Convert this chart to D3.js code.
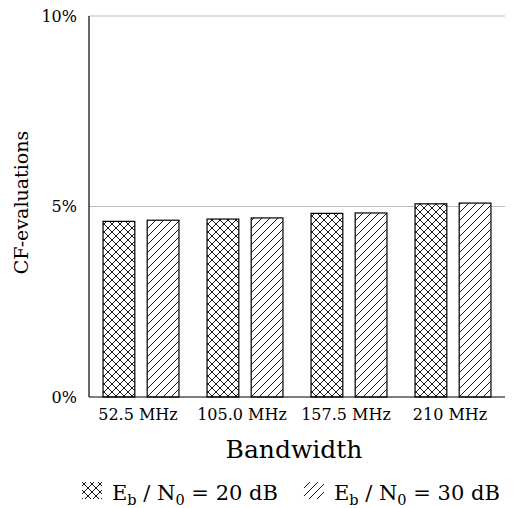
<!DOCTYPE html>
<html><head><meta charset="utf-8">
<script src="https://cdn.jsdelivr.net/npm/d3@7"></script>
<style>
html,body{margin:0;padding:0;background:#fff;}
text{font-family:"DejaVu Serif",serif;fill:#000;}
</style></head>
<body><svg id="chart" width="514" height="508"></svg>
<script>
const categories = ["52.5 MHz", "105.0 MHz", "157.5 MHz", "210 MHz"];
const series20 = [4.61, 4.67, 4.82, 5.07];
const series30 = [4.64, 4.70, 4.83, 5.09];
const seriesNames = ["20", "30"];
const yTicks = [0, 5, 10];
const xLabel = "Bandwidth";
const yLabel = "CF-evaluations";

const svg = d3.select("#chart");
const m = {left: 89, right: 9, top: 16, bottom: 111};
const W = 514, H = 508;
const x = d3.scaleBand().domain(categories).range([m.left, W - m.right]).paddingInner(0.27).paddingOuter(0.135);
const xs = d3.scaleBand().domain(seriesNames).range([0, x.bandwidth()]).paddingInner(0.28);
const y = d3.scaleLinear().domain([0, 10]).range([H - m.bottom, m.top]);

const defs = svg.append("defs");
const pc = defs.append("pattern").attr("id", "cross").attr("patternUnits", "userSpaceOnUse").attr("width", 8).attr("height", 8);
pc.append("path").attr("d", "M0,0L8,8M0,8L8,0").attr("stroke", "#000").attr("stroke-width", 0.9).attr("fill", "none");
const ph = defs.append("pattern").attr("id", "hatch").attr("patternUnits", "userSpaceOnUse").attr("width", 8).attr("height", 8);
ph.append("path").attr("d", "M-2,2L2,-2M0,8L8,0M6,10L10,6").attr("stroke", "#000").attr("stroke-width", 0.9).attr("fill", "none");
const fills = {"20": "url(#cross)", "30": "url(#hatch)"};

// grid
svg.append("g").selectAll("line").data(yTicks.filter(d => d > 0)).join("line")
  .attr("x1", m.left).attr("x2", W - m.right)
  .attr("y1", d => y(d)).attr("y2", d => y(d))
  .attr("stroke", "#bbb").attr("stroke-width", 1);

// y tick labels
svg.append("g").selectAll("text").data(yTicks).join("text")
  .attr("x", m.left - 12).attr("y", d => y(d)).attr("dy", "0.35em")
  .attr("text-anchor", "end").attr("font-size", 16)
  .text(d => d + "%");

// bars
const data = categories.map((c, i) => ({c, v: {"20": series20[i], "30": series30[i]}}));
const g = svg.append("g");
data.forEach(d => {
  seriesNames.forEach(s => {
    g.append("rect")
      .attr("x", x(d.c) + xs(s)).attr("width", xs.bandwidth())
      .attr("y", y(d.v[s])).attr("height", y(0) - y(d.v[s]))
      .attr("fill", "#fff");
    g.append("rect")
      .attr("x", x(d.c) + xs(s)).attr("width", xs.bandwidth())
      .attr("y", y(d.v[s])).attr("height", y(0) - y(d.v[s]))
      .attr("fill", fills[s]).attr("stroke", "#000").attr("stroke-width", 1.2);
  });
});

// axes lines
svg.append("line").attr("x1", m.left).attr("x2", m.left).attr("y1", y(10)).attr("y2", y(0)).attr("stroke", "#000").attr("stroke-width", 1.2);
svg.append("line").attr("x1", m.left).attr("x2", W - m.right).attr("y1", y(0)).attr("y2", y(0)).attr("stroke", "#000").attr("stroke-width", 1.2);

// x tick labels
svg.append("g").selectAll("text").data(categories).join("text")
  .attr("x", d => x(d) + x.bandwidth() / 2 - 3).attr("y", y(0) + 23)
  .attr("text-anchor", "middle").attr("font-size", 16)
  .text(d => d);

// axis titles
svg.append("text").attr("x", (m.left + W - m.right) / 2 - 3).attr("y", 458)
  .attr("text-anchor", "middle").attr("font-size", 25).text(xLabel);
svg.append("text").attr("transform", `translate(28,${(y(0) + y(10)) / 2 - 4}) rotate(-90)`)
  .attr("text-anchor", "middle").attr("font-size", 19).text(yLabel);

// legend
const leg = svg.append("g");
let cx = 82;
seriesNames.forEach((s, i) => {
  leg.append("rect").attr("x", cx).attr("y", 482).attr("width", 20).attr("height", 17).attr("fill", fills[s]);
  cx += 30;
  const t = leg.append("text").attr("x", cx).attr("y", 500).attr("font-size", 21);
  t.append("tspan").text("E");
  t.append("tspan").attr("font-size", 14.5).attr("dy", 5).text("b");
  t.append("tspan").attr("dy", -5).text(" / N");
  t.append("tspan").attr("font-size", 14.5).attr("dy", 5).text("0");
  t.append("tspan").attr("dy", -5).text(" = " + s + " dB");
  cx += t.node().getComputedTextLength() + 26;
});
</script></body></html>
